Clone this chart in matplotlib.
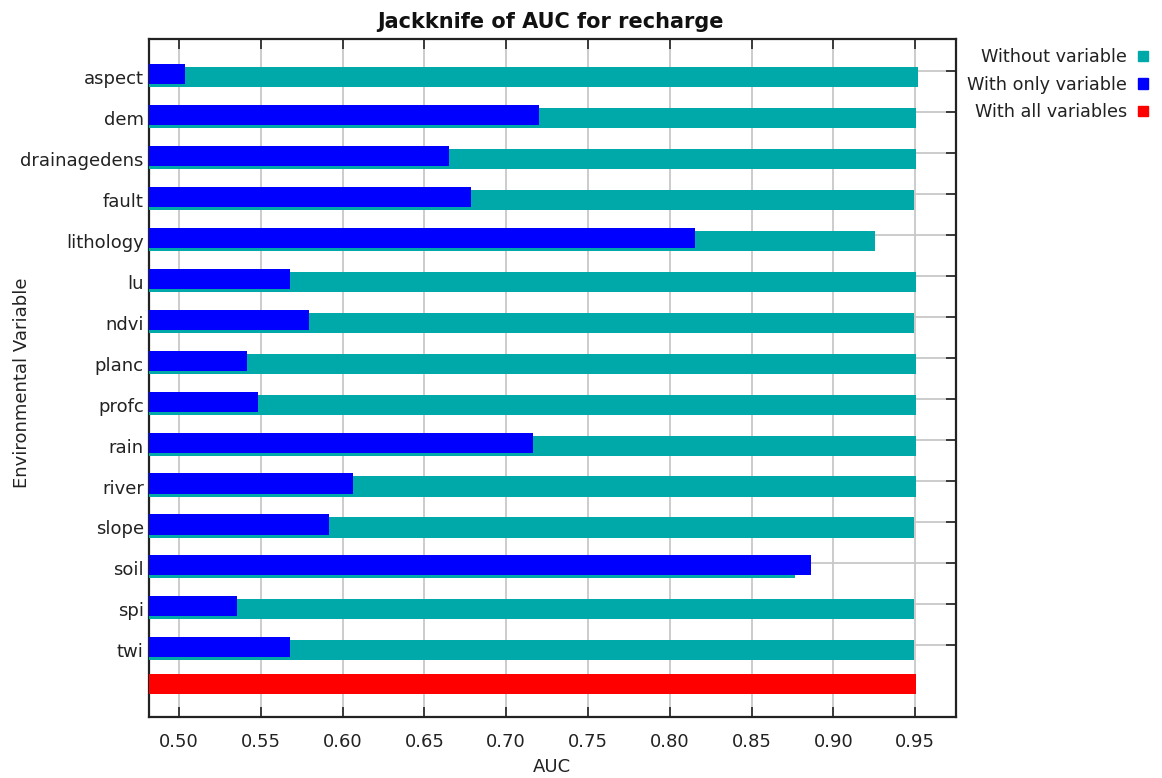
import matplotlib
matplotlib.use("Agg")
import matplotlib.pyplot as plt
from matplotlib.patches import Rectangle
import numpy as np

# jackknife test of variable importance (AUC), recharge model
variables = ["aspect", "dem", "drainagedens", "fault", "lithology", "lu", "ndvi",
             "planc", "profc", "rain", "river", "slope", "soil", "spi", "twi"]
auc_without = [0.9516, 0.9506, 0.9506, 0.9494, 0.9257, 0.9506, 0.9494,
               0.9506, 0.9506, 0.9506, 0.9506, 0.9494, 0.8768, 0.9494, 0.9494]
auc_only = [0.5035, 0.7203, 0.6651, 0.6787, 0.8157, 0.5677, 0.5793,
            0.5418, 0.5481, 0.7162, 0.6062, 0.5915, 0.8862, 0.5355, 0.5677]
auc_all = 0.9504

x_ticks = [0.50, 0.55, 0.60, 0.65, 0.70, 0.75, 0.80, 0.85, 0.90, 0.95]

teal = "#00A9A9"
blue = "#0000FF"
red = "#FF0000"
txt = "#222222"

plt.rcParams['font.family'] = ['DejaVu Sans']

xmin, xmax = 0.4818, 0.975
rows = np.arange(len(variables))
all_row = rows[-1] + 0.82
bar_h = 0.49

fig = plt.figure(figsize=(11.62, 7.78), dpi=100)
ax = fig.add_axes([0.1285, 0.0788, 0.6942, 0.8707])

ax.barh(rows, np.array(auc_without) - xmin, left=xmin, height=bar_h,
        color=teal, zorder=3)
ax.barh(rows - 0.073, np.array(auc_only) - xmin, left=xmin, height=bar_h,
        color=blue, zorder=4)
ax.barh([all_row], [auc_all - xmin], left=xmin, height=bar_h, color=red, zorder=3)

ax.set_xlim(xmin, xmax)
ax.set_ylim(15.62, -0.92)

ax.set_xticks(x_ticks)
ax.set_xticklabels(["%.2f" % v for v in x_ticks])
ax.set_yticks(rows)
ax.set_yticklabels(variables)
ax.set_yticks(rows - 0.134, minor=True)

ax.grid(axis='x', which='major', color='#C8C8C8', lw=1.3, zorder=0)
ax.grid(axis='y', which='minor', color='#C8C8C8', lw=1.3, zorder=0)
ax.set_axisbelow(True)

ax.tick_params(axis='x', which='major', top=True, bottom=True, direction='in',
               length=7, width=1.2, color='#222222', labelsize=13,
               labelcolor=txt, pad=12)
ax.tick_params(axis='y', which='major', left=False, right=False, length=0,
               labelsize=13, labelcolor=txt, pad=4)
ax.tick_params(axis='y', which='minor', left=False, right=True, direction='in',
               length=7, width=1.2, color='#222222')

for s in ax.spines.values():
    s.set_linewidth(1.6)
    s.set_color('#222222')

fig.text(550 / 1162, 1 - 22 / 778, "Jackknife of AUC for recharge", ha='center',
         va='center', fontsize=15, fontweight='bold', color='#111111')
fig.text(552 / 1162, 1 - 767 / 778, "AUC", ha='center', va='center',
         fontsize=13, color=txt)
fig.text(22 / 1162, 1 - 383 / 778, "Environmental Variable", ha='center',
         va='center', rotation=90, fontsize=13, color=txt)

# legend: right-aligned labels followed by a small colour square
legend_items = [("Without variable", teal), ("With only variable", blue),
                ("With all variables", red)]
for k, (lab, col) in enumerate(legend_items):
    yc = 56 + 27.5 * k
    fig.text(1127 / 1162, 1 - (yc + 1) / 778, lab, ha='right', va='center',
             fontsize=12.7, color=txt)
    fig.patches.append(Rectangle((1138 / 1162, 1 - (yc + 5) / 778), 10 / 1162,
                                 10 / 778, transform=fig.transFigure,
                                 color=col, figure=fig))

fig.savefig("out.png", dpi=100)
